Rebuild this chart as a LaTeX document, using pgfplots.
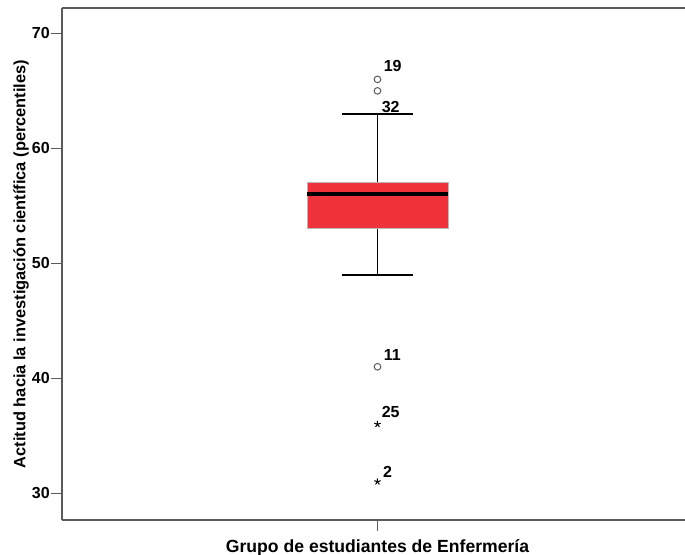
\documentclass[border=0pt]{standalone}
\usepackage{fontspec}
\setmainfont{Liberation Sans}
\usepackage{pgfplots}
\pgfplotsset{compat=1.18}
\usepgfplotslibrary{statistics}
\definecolor{boxred}{RGB}{240,50,58}
\definecolor{spine}{RGB}{90,90,90}
\begin{document}
\begin{tikzpicture}
\useasboundingbox (-46.5pt,-25.5pt) rectangle (467.25pt,390pt);
\begin{axis}[
  at={(0,0)}, anchor=south west,
  scale only axis,
  width=470.25pt, height=384pt,
  xmin=0, xmax=10.0642,
  ymin=27.67, ymax=72.21,
  boxplot/draw direction=y,
  separate axis lines,
  axis x line*=box,
  axis y line*=left,
  xtick pos=left,
  ytick pos=left,
  axis line style={spine, line width=1pt},
  tick style={spine, line width=1pt},
  tick align=outside,
  major tick length=8pt,
  xtick={5.064},
  xticklabels={},
  ytick={30,40,50,60,70},
  /pgf/number format/assume math mode=true,
  yticklabel style={font=\bfseries\fontsize{12}{14}\selectfont, inner xsep=1pt},
  xlabel={\bfseries Grupo de estudiantes de Enfermería},
  xlabel style={font=\fontsize{13.2}{15}\selectfont, at={(axis description cs:0.5032,0)}, anchor=base, yshift=-24pt},
  ylabel={\bfseries Actitud hacia la investigación científica (percentiles)},
  ylabel style={font=\fontsize{12.3}{14}\selectfont, at={(axis description cs:0,0.5)}, anchor=center, yshift=30.75pt},
  clip=false,
]
\addplot[
  draw=gray!55, line width=0.6pt, fill=boxred,
  boxplot prepared={
    draw position=5.064,
    lower whisker=49, lower quartile=53, median=56,
    upper quartile=57, upper whisker=63,
    box extend=2.263, whisker extend=1.14,
    every median/.style={draw=black, line width=3pt},
    every whisker/.style={draw=black, line width=1.2pt},
  },
] coordinates {};
\addplot[only marks, mark=o, mark size=2.5pt, mark options={draw=spine, line width=0.75pt}]
  coordinates {(5.064,66) (5.064,65) (5.064,41)};
\addplot[only marks, mark=star, mark size=2.5pt, mark options={draw=black, line width=0.75pt}]
  coordinates {(5.064,36) (5.064,31)};
\node[font=\bfseries\fontsize{12}{14}\selectfont, inner sep=0pt, anchor=base west, xshift=4.5pt, yshift=6pt] at (axis cs:5.064,66) {19};
\node[font=\bfseries\fontsize{12}{14}\selectfont, inner sep=0pt, anchor=base west, xshift=3pt, yshift=-16pt] at (axis cs:5.064,65) {32};
\node[font=\bfseries\fontsize{12}{14}\selectfont, inner sep=0pt, anchor=base west, xshift=4.5pt, yshift=5pt] at (axis cs:5.064,41) {11};
\node[font=\bfseries\fontsize{12}{14}\selectfont, inner sep=0pt, anchor=base west, xshift=3pt, yshift=5pt] at (axis cs:5.064,36) {25};
\node[font=\bfseries\fontsize{12}{14}\selectfont, inner sep=0pt, anchor=base west, xshift=4pt, yshift=3pt] at (axis cs:5.064,31) {2};
\end{axis}
\end{tikzpicture}
\end{document}
